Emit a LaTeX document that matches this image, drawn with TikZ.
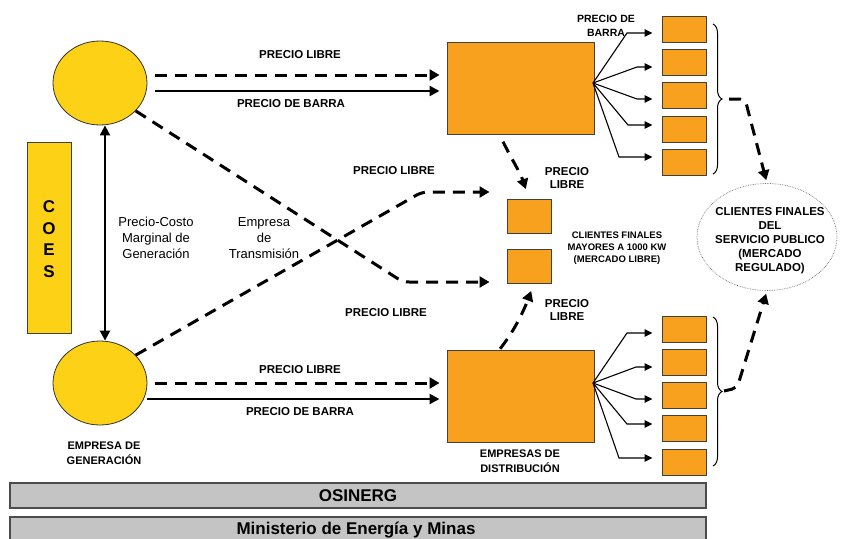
\documentclass[tikz,border=0pt]{standalone}
\usepackage{fontspec}
\setmainfont{Liberation Sans}
\usetikzlibrary{shapes.geometric,arrows.meta,decorations.pathreplacing,calc}
\definecolor{gold}{HTML}{FCD116}
\definecolor{orng}{HTML}{F7A11E}
\definecolor{barg}{HTML}{C4C4C4}
\begin{document}
\begin{tikzpicture}[x=1pt,y=-1pt,
  gen/.style={ellipse, draw=black!80, line width=0.8pt, fill=gold, minimum width=94pt, minimum height=84pt, inner sep=0pt},
  bigbox/.style={rectangle, draw=black!75, line width=1pt, fill=orng, minimum width=147pt, minimum height=92pt, inner sep=0pt},
  smallbox/.style={rectangle, draw=black!75, line width=1pt, fill=orng, minimum width=44pt, minimum height=26pt, inner sep=0pt},
  midbox/.style={rectangle, draw=black!75, line width=1pt, fill=orng, minimum width=44pt, minimum height=34pt, inner sep=0pt},
  barbox/.style={rectangle, draw=black!70, line width=1.4pt, fill=barg, minimum width=696pt, inner sep=0pt, font=\fontsize{17}{20}\selectfont\bfseries},
  lbl/.style={font=\fontsize{11.5}{14}\selectfont\bfseries, align=center, inner sep=0pt},
  lblr/.style={font=\fontsize{13}{16}\selectfont, align=center, inner sep=0pt},
  dasharrow/.style={line width=3pt, dash pattern=on 12pt off 8pt, -{Triangle[length=10pt,width=11pt]}},
  solidarrow/.style={line width=2.2pt, -{Triangle[length=10pt,width=10pt]}},
  fanarrow/.style={line width=1.1pt, -{Triangle[length=8pt,width=7.5pt]}},
  brc/.style={line width=1pt, decorate, decoration={brace, amplitude=9pt}}
]
\useasboundingbox (0,0) rectangle (843,538);

% COES
\node[rectangle, draw=black!75, line width=1pt, fill=gold, minimum width=44pt, minimum height=191pt, inner sep=0pt] (coes) at (49,237.5) {};
\node[font=\fontsize{17}{21.5}\selectfont\bfseries, align=center, inner sep=0pt] (coest) at (49,239) {C\\O\\E\\S};

% generators
\node[gen] (g1) at (100,83) {};
\node[gen] (g2) at (100,383) {};
\node[lbl, font=\fontsize{11}{15}\selectfont\bfseries] (gent) at (104,453) {EMPRESA DE\\GENERACIÓN};

% distribution
\node[bigbox] (d1) at (520.5,88) {};
\node[bigbox] (d2) at (520.5,396) {};
\node[lbl, font=\fontsize{11}{15}\selectfont\bfseries] (dist) at (520,461) {EMPRESAS DE\\DISTRIBUCIÓN};

% small client boxes
\foreach \i/\y in {1/29,2/62.5,3/95.5,4/129,5/162}{
  \node[smallbox] (a\i) at (684,\y) {};
}
\foreach \i/\y in {1/329.5,2/362.5,3/395.5,4/428.5,5/462}{
  \node[smallbox] (b\i) at (684,\y) {};
}

% free market boxes
\node[midbox] (m1) at (529,216) {};
\node[midbox] (m2) at (529,266) {};
\node[lbl, font=\fontsize{9.5}{12}\selectfont\bfseries] (mt) at (617,248) {CLIENTES FINALES\\MAYORES A 1000 KW\\(MERCADO LIBRE)};

% regulated clients ellipse
\node[ellipse, draw=black!55, densely dotted, line width=0.7pt, minimum width=140pt, minimum height=107pt, inner sep=0pt] (reg) at (767,237) {};
\node[lbl] (regt) at (770,241) {CLIENTES FINALES\\DEL\\SERVICIO PUBLICO\\(MERCADO\\REGULADO)};

% bars
\node[barbox, minimum height=25pt] (osi) at (358,495.5) {OSINERG};
\node[barbox, minimum height=28pt, text depth=0pt] (mem) at (358,531) {};
\node[font=\fontsize{17}{20}\selectfont\bfseries, inner sep=0pt] (memt) at (356,530) {Ministerio de Energía y Minas};

% labels
\node[lbl] (l1) at (300,55) {PRECIO LIBRE};
\node[lbl] (l2) at (291,104) {PRECIO DE BARRA};
\node[lbl] (l3) at (300,370) {PRECIO LIBRE};
\node[lbl] (l4) at (300,412) {PRECIO DE BARRA};
\node[lbl] (l5) at (394,171) {PRECIO LIBRE};
\node[lbl] (l6) at (386,313) {PRECIO LIBRE};
\node[lbl, font=\fontsize{10.5}{14}\selectfont\bfseries] (l7) at (606,26) {PRECIO DE\\BARRA};
\node[lbl, font=\fontsize{11.5}{13}\selectfont\bfseries] (l8) at (567,178) {PRECIO\\LIBRE};
\node[lbl, font=\fontsize{11.5}{13}\selectfont\bfseries] (l9) at (567,310) {PRECIO\\LIBRE};
\node[lblr] (l10) at (156,238) {Precio-Costo\\Marginal de\\Generación};
\node[lblr] (l11) at (264,238) {Empresa\\de\\Transmisión};

% vertical double arrow
\draw[line width=2.2pt, {Triangle[length=10pt,width=10pt]}-{Triangle[length=10pt,width=10pt]}] ([xshift=5pt]g1.south) -- ([xshift=5pt]g2.north);

% generator -> distribution
\draw[dasharrow, shorten <=8pt, shorten >=7pt] (g1.east |- 0,75) -- (d1.west |- 0,75);
\draw[solidarrow, shorten <=8pt, shorten >=7pt] (g1.east |- 0,91) -- (d1.west |- 0,91);
\draw[dasharrow, shorten <=8pt, shorten >=7pt] (g2.east |- 0,383) -- (d2.west |- 0,383);
\draw[solidarrow, shorten >=7pt] (g2.east |- 0,399) -- (d2.west |- 0,399);

% crossing free-price lines
\coordinate (k1) at (403,282);
\coordinate (k2) at (422,192);
\draw[dasharrow, rounded corners=6pt, shorten >=17pt] (g1.-38) -- (k1) -- (m2.west |- k1);
\draw[dasharrow, rounded corners=6pt, shorten >=17pt] (g2.38) -- (k2) -- (m1.west |- k2);

% distribution -> free clients
\draw[dasharrow, shorten <=8pt, shorten >=10pt] ([xshift=-21pt]d1.south) .. controls (512,160) and (520,172) .. (m1.north);
\draw[dasharrow, shorten <=1pt, shorten >=8pt] ([xshift=-21pt]d2.north) .. controls (515,330) and (524,310) .. ([xshift=5pt]m2.south);

% fans
\coordinate (fo1) at (593,83);
\coordinate (fo2) at (593,383);
\foreach \i/\cx/\cy in {1/627/33,2/637/67,3/637/99,4/628/125,5/619/157}{
  \draw[fanarrow, shorten >=9pt] (fo1) -- (\cx,\cy) -- (a\i.west |- 0,\cy);
}
\foreach \i/\cx/\cy in {1/627/333,2/636/367,3/636/399,4/627/424,5/619/458}{
  \draw[fanarrow, shorten >=9pt] (fo2) -- (\cx,\cy) -- (b\i.west |- 0,\cy);
}

% braces
\coordinate (bt1) at (713,24);
\coordinate (bb1) at (713,174);
\coordinate (bt2) at (713,317);
\coordinate (bb2) at (713,466);
\draw[brc] (bt1) -- (bb1);
\draw[brc] (bt2) -- (bb2);
\coordinate (tip1) at (729,99);
\coordinate (tip2) at (724,391);

% to regulated clients
\draw[dasharrow, rounded corners=5pt, shorten >=3pt] (tip1) -- (745,99) -- (reg.north);
\draw[dasharrow, rounded corners=5pt, shorten >=3pt] (tip2) -- (737,388) -- (reg.south);
\end{tikzpicture}
\end{document}
